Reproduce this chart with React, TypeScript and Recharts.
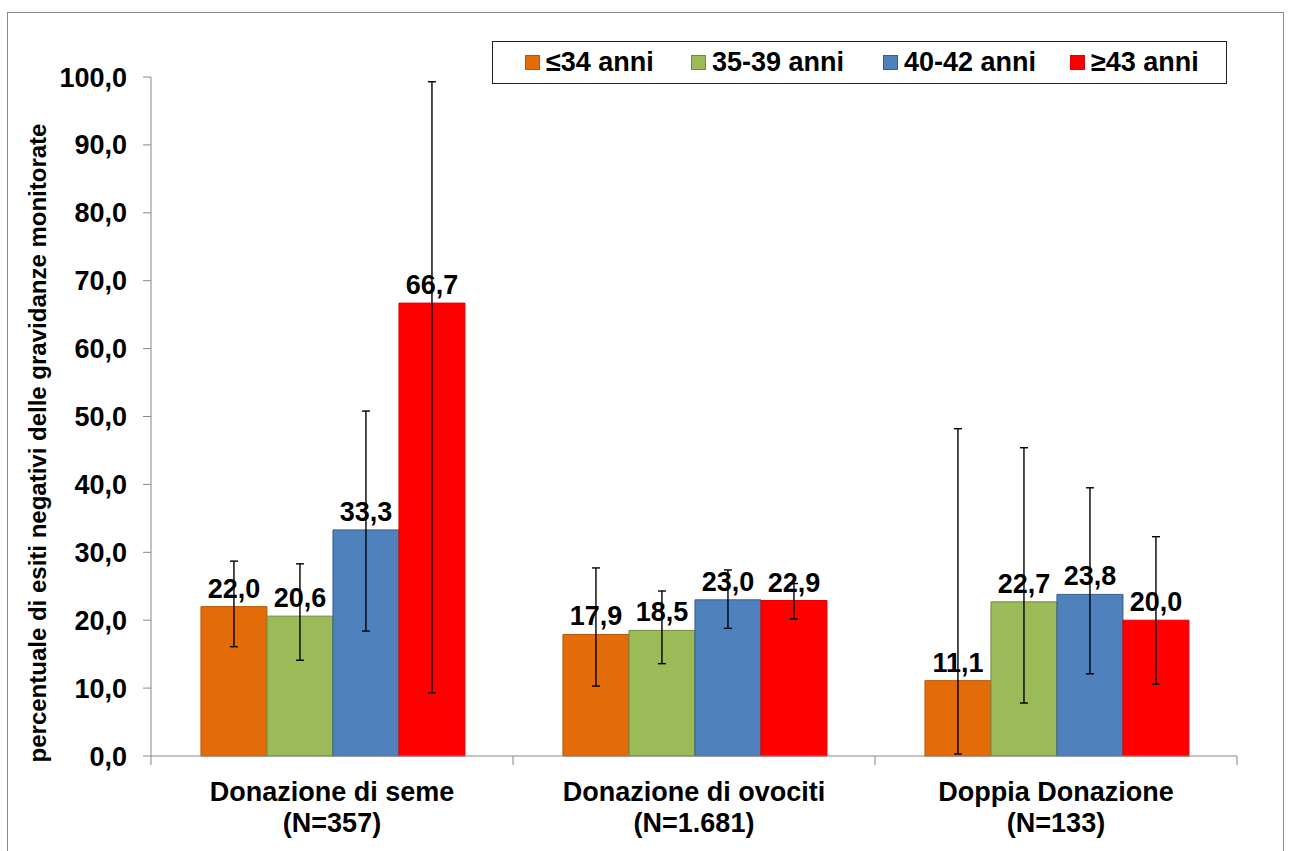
import React from 'react';
import { BarChart, Bar, XAxis, YAxis, ErrorBar, LabelList, Legend } from 'recharts';

const categories = ['Donazione di seme', 'Donazione di ovociti', 'Doppia Donazione'];
const categoryN = ['(N=357)', '(N=1.681)', '(N=133)'];
const seriesNames = ['≤34 anni', '35-39 anni', '40-42 anni', '≥43 anni'];
const seriesKeys = ['a', 'b', 'c', 'd'];
const seriesColors = ['#E36C09', '#9BBB59', '#4F81BD', '#FF0000'];
const seriesStrokes = ['#B65708', '#71893F', '#385D8A', '#E00000'];

const valuesA = [22.0, 17.9, 11.1];
const valuesB = [20.6, 18.5, 22.7];
const valuesC = [33.3, 23.0, 23.8];
const valuesD = [66.7, 22.9, 20.0];

const lowA = [16.1, 10.3, 0.3];
const highA = [28.7, 27.7, 48.2];
const lowB = [14.1, 13.6, 7.8];
const highB = [28.3, 24.3, 45.4];
const lowC = [18.4, 18.8, 12.1];
const highC = [50.8, 27.4, 39.5];
const lowD = [9.3, 20.2, 10.6];
const highD = [99.3, 25.4, 32.3];

const yTicks = [0, 10, 20, 30, 40, 50, 60, 70, 80, 90, 100];
const yLabel = 'percentuale di esiti negativi delle gravidanze monitorate';

const values = [valuesA, valuesB, valuesC, valuesD];
const lows = [lowA, lowB, lowC, lowD];
const highs = [highA, highB, highC, highD];

const data = categories.map((cat, i) => {
  const row: any = { name: cat, n: categoryN[i] };
  seriesKeys.forEach((k, s) => {
    row[k] = values[s][i];
    row[k + 'Err'] = [values[s][i] - lows[s][i], highs[s][i] - values[s][i]];
  });
  return row;
});

const FONT = '"Liberation Sans", Arial, sans-serif';
const FS = 27;
const fmt = (v: any) => Number(v).toFixed(1).replace('.', ',');

const W = 1289;
const H = 851;
const M = { top: 77, right: 52, bottom: 0, left: 0 };
const YW = 151;
const XH = 95;
const band = (W - M.right - YW) / categories.length;
const legendItemLeft = [32, 198, 390, 577];

const XTick = (props: any) => {
  const { x, payload, index } = props;
  const axisY = H - XH;
  const i = categories.indexOf(payload.value);
  return (
    <g>
      <line x1={x - band / 2} y1={axisY} x2={x - band / 2} y2={axisY + 9} stroke="#888" />
      {index === categories.length - 1 && (
        <line x1={x + band / 2} y1={axisY} x2={x + band / 2} y2={axisY + 9} stroke="#888" />
      )}
      <text x={x} y={axisY + 45} textAnchor="middle" fontFamily={FONT} fontWeight="bold" fontSize={FS} fill="#000">
        {payload.value}
      </text>
      <text x={x} y={axisY + 76} textAnchor="middle" fontFamily={FONT} fontWeight="bold" fontSize={FS} fill="#000">
        {categoryN[i]}
      </text>
    </g>
  );
};

const LegendBox = () => (
  <div
    style={{
      position: 'absolute',
      left: 492,
      top: 41,
      width: 735,
      height: 43,
      boxSizing: 'border-box',
      border: '1px solid #222',
      background: '#fff',
      fontFamily: FONT,
      fontWeight: 'bold',
      fontSize: FS,
      color: '#000',
    }}
  >
    {seriesNames.map((n, i) => (
      <div
        key={n}
        style={{
          position: 'absolute',
          left: legendItemLeft[i],
          top: 0,
          height: 41,
          display: 'flex',
          alignItems: 'center',
          whiteSpace: 'nowrap',
        }}
      >
        <span
          style={{
            display: 'inline-block',
            width: 15,
            height: 15,
            boxSizing: 'border-box',
            background: seriesColors[i],
            border: `1px solid ${seriesStrokes[i]}`,
            marginRight: 6,
          }}
        />
        <span style={{ lineHeight: '41px' }}>{n}</span>
      </div>
    ))}
  </div>
);

export default function App() {
  return (
    <div style={{ position: 'absolute', left: 0, top: 0, width: W, height: H, overflow: 'hidden', background: '#fff' }}>
      <div
        style={{
          position: 'absolute',
          left: 7,
          top: 12,
          width: 1277,
          height: 860,
          border: '1px solid #8c8c8c',
          boxSizing: 'border-box',
        }}
      />
      <div style={{ position: 'absolute', left: 0, top: 0 }}>
        <BarChart width={W} height={H} data={data} margin={M} barGap={0} barCategoryGap="13.8%">
          <XAxis
            dataKey="name"
            height={XH}
            axisLine={{ stroke: '#888' }}
            tickLine={false}
            tick={<XTick />}
            interval={0}
          />
          <YAxis
            width={YW}
            domain={[0, 100]}
            ticks={yTicks}
            interval={0}
            tickFormatter={fmt}
            axisLine={{ stroke: '#888' }}
            tickLine={{ stroke: '#888' }}
            tickSize={8}
            tickMargin={16}
            tick={{ fill: '#000', fontFamily: FONT, fontWeight: 'bold', fontSize: FS }}
            label={{
              content: () => (
                <text
                  x={37}
                  y={443}
                  transform="rotate(-90 37 443)"
                  textAnchor="middle"
                  dominantBaseline="central"
                  fontFamily={FONT}
                  fontWeight="bold"
                  fontSize={24}
                  fill="#000"
                >
                  {yLabel}
                </text>
              ),
            }}
          />
          <Legend content={<LegendBox />} wrapperStyle={{ position: 'absolute', left: 0, top: 0, width: 0, height: 0 }} />
          {seriesKeys.map((k, s) => (
            <Bar
              key={k}
              dataKey={k}
              name={seriesNames[s]}
              fill={seriesColors[s]}
              stroke={seriesStrokes[s]}
              strokeWidth={1}
              isAnimationActive={false}
            >
              <LabelList
                dataKey={k}
                position="top"
                offset={9}
                formatter={fmt}
                style={{ fill: '#000', fontFamily: FONT, fontWeight: 'bold', fontSize: FS }}
              />
              <ErrorBar dataKey={k + 'Err'} direction="y" width={4} stroke="#000" strokeWidth={1.4} />
            </Bar>
          ))}
        </BarChart>
      </div>
    </div>
  );
}
